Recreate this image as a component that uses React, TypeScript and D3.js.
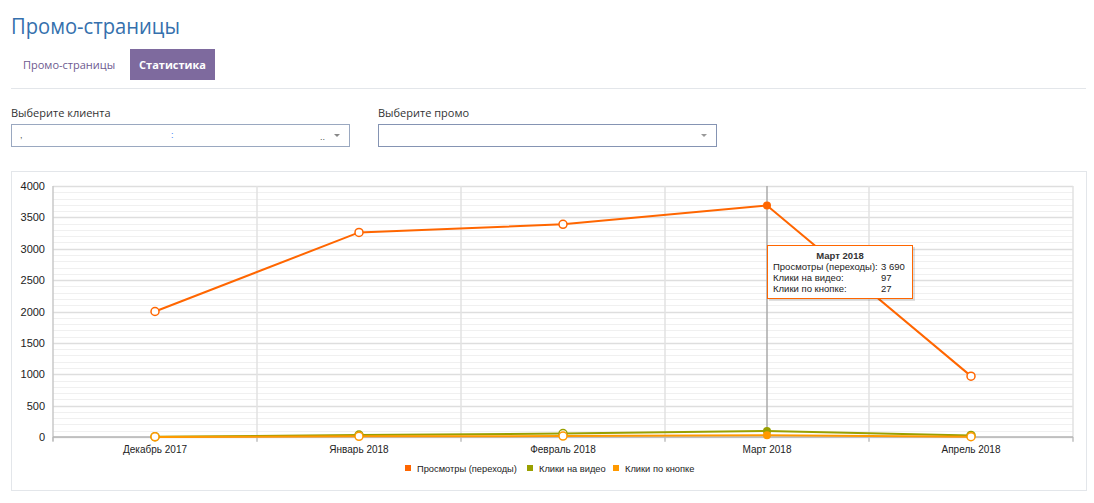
import React from "react";
import * as d3 from "d3";

const months = ["Декабрь 2017", "Январь 2018", "Февраль 2018", "Март 2018", "Апрель 2018"];
const views = [2000, 3260, 3390, 3690, 970];
const videoClicks = [5, 30, 55, 97, 25];
const buttonClicks = [2, 10, 15, 27, 5];
const yTicks = [0, 500, 1000, 1500, 2000, 2500, 3000, 3500, 4000];
const seriesNames = ["Просмотры (переходы)", "Клики на видео", "Клики по кнопке"];
const seriesColors = ["#ff6600", "#99a000", "#ff9900"];
const tooltipTitle = "Март 2018";
const tooltipLabels = ["Просмотры (переходы):", "Клики на видео:", "Клики по кнопке:"];
const tooltipValues = ["3 690", "97", "27"];
const hoverIndex = 3;

export default function App() {
  const x = d3.scaleBand<string>().domain(months).range([53, 1073]);
  const y = d3.scaleLinear().domain([0, 4000]).range([437, 186]);
  const cx = (m: string) => (x(m) as number) + x.bandwidth() / 2;
  const minor = d3.range(0, 4001, 100);
  const line = d3
    .line<number>()
    .x((_, i) => cx(months[i]))
    .y((v) => y(v));
  const series = [views, videoClicks, buttonClicks];
  const font = "'Liberation Sans', Arial, sans-serif";
  const uiFont = "'Open Sans', sans-serif";
  const boundaries = d3.range(0, months.length + 1).map((i) => 53 + i * x.bandwidth());
  const hx = cx(months[hoverIndex]);
  const legendX = [405, 527, 613];

  return (
    <svg
      width={1094}
      height={503}
      style={{ position: "absolute", left: 0, top: 0, background: "#fff" }}
    >
      {/* header */}
      <text
        x={11}
        y={34}
        fontFamily={uiFont}
        fontSize={22}
        textLength={169}
        lengthAdjust="spacingAndGlyphs"
        fill="#3570ad"
      >
        Промо-страницы
      </text>
      <text x={23} y={69} fontFamily={uiFont} fontSize={11} fill="#6e5a8f">
        Промо-страницы
      </text>
      <rect x={130} y={49} width={85} height={31} fill="#7e6a9e" />
      <text
        x={172.5}
        y={69}
        textAnchor="middle"
        fontFamily={uiFont}
        fontSize={11}
        fontWeight="bold"
        fill="#fff"
      >
        Статистика
      </text>
      <line x1={11} x2={1086} y1={88.5} y2={88.5} stroke="#e3e6ea" />

      <text x={11} y={117} fontFamily={uiFont} fontSize={11} fill="#333">
        Выберите клиента
      </text>
      <rect x={11.5} y={124.5} width={338} height={22} fill="#fff" stroke="#9aa8c0" />
      <text x={20} y={138} fontFamily={font} fontSize={9} fill="#555">,</text>
      <text x={171} y={138} fontFamily={font} fontSize={9} fill="#3b82f6">:</text>
      <text x={320} y={140} fontFamily={font} fontSize={9} fill="#555">..</text>
      <path d="M334,134 l6,0 l-3,3 z" fill="#888" />

      <text x={378} y={117} fontFamily={uiFont} fontSize={11} fill="#333">
        Выберите промо
      </text>
      <rect x={378.5} y={124.5} width={338} height={22} fill="#fff" stroke="#8594b3" />
      <path d="M701,134 l6,0 l-3,3 z" fill="#999" />

      {/* chart container */}
      <rect x={11.5} y={171.5} width={1075} height={319} fill="#fff" stroke="#e3e6ea" />

      {/* minor grid */}
      {minor.map((v) => (
        <line
          key={"m" + v}
          x1={53}
          x2={1073}
          y1={Math.round(y(v)) + 0.5}
          y2={Math.round(y(v)) + 0.5}
          stroke={v % 500 === 0 ? "#dedede" : "#f0f0f0"}
          strokeWidth={v % 500 === 0 ? 1.5 : 1}
        />
      ))}
      {/* vertical grid */}
      {boundaries.map((bx, i) => (
        <line
          key={"v" + i}
          x1={bx}
          x2={bx}
          y1={186}
          y2={441}
          stroke={i === 0 ? "#c8c8c8" : "#e2e2e2"}
          strokeWidth={1.5}
        />
      ))}
      {/* x axis */}
      <line x1={53} x2={1073} y1={437} y2={437} stroke="#b5b5b5" strokeWidth={1.5} />
      {boundaries.map((bx, i) => (
        <line key={"t" + i} x1={bx} x2={bx} y1={437} y2={442} stroke="#b5b5b5" />
      ))}

      {/* y ticks */}
      {yTicks.map((v) => (
        <text
          key={"y" + v}
          x={45}
          y={y(v) + 4}
          textAnchor="end"
          fontFamily={font}
          fontSize={11}
          fill="#222"
        >
          {v}
        </text>
      ))}
      {/* x labels */}
      {months.map((m) => (
        <text
          key={m}
          x={cx(m)}
          y={453}
          textAnchor="middle"
          fontFamily={font}
          fontSize={10}
          fill="#222"
        >
          {m}
        </text>
      ))}

      {/* hover line */}
      <line x1={hx} x2={hx} y1={186} y2={437} stroke="#aaaaaa" strokeWidth={1.5} />

      {/* series lines */}
      {series.map((s, si) => (
        <path
          key={"l" + si}
          d={line(s) || ""}
          fill="none"
          stroke={seriesColors[si]}
          strokeWidth={2}
        />
      ))}
      {series.map((s, si) =>
        s.map((v, i) =>
          i === hoverIndex ? (
            <circle
              key={"p" + si + "-" + i}
              cx={cx(months[i])}
              cy={y(v)}
              r={4}
              fill={seriesColors[si]}
            />
          ) : (
            <circle
              key={"p" + si + "-" + i}
              cx={cx(months[i])}
              cy={y(v)}
              r={4}
              fill="#fff"
              stroke={seriesColors[si]}
              strokeWidth={1.5}
            />
          )
        )
      )}

      {/* tooltip */}
      <rect x={769} y={247} width={146} height={54} fill="rgba(0,0,0,0.12)" />
      <rect x={767.5} y={245.5} width={145} height={53} fill="#fff" stroke="#ff6600" strokeWidth={1} />
      <text
        x={840}
        y={259}
        textAnchor="middle"
        fontFamily={font}
        fontSize={9.5}
        fontWeight="bold"
        fill="#333"
      >
        {tooltipTitle}
      </text>
      {tooltipLabels.map((t, i) => (
        <g key={"tt" + i}>
          <text x={773} y={270 + i * 11} fontFamily={font} fontSize={9.5} fill="#222">
            {t}
          </text>
          <text x={881} y={270 + i * 11} fontFamily={font} fontSize={9.5} fill="#222">
            {tooltipValues[i]}
          </text>
        </g>
      ))}

      {/* legend */}
      {seriesNames.map((n, i) => (
        <g key={"lg" + i}>
          <rect x={legendX[i]} y={465} width={6} height={6} fill={seriesColors[i]} />
          <text x={legendX[i] + 12} y={471.5} fontFamily={font} fontSize={9.3} fill="#222">
            {n}
          </text>
        </g>
      ))}
    </svg>
  );
}
